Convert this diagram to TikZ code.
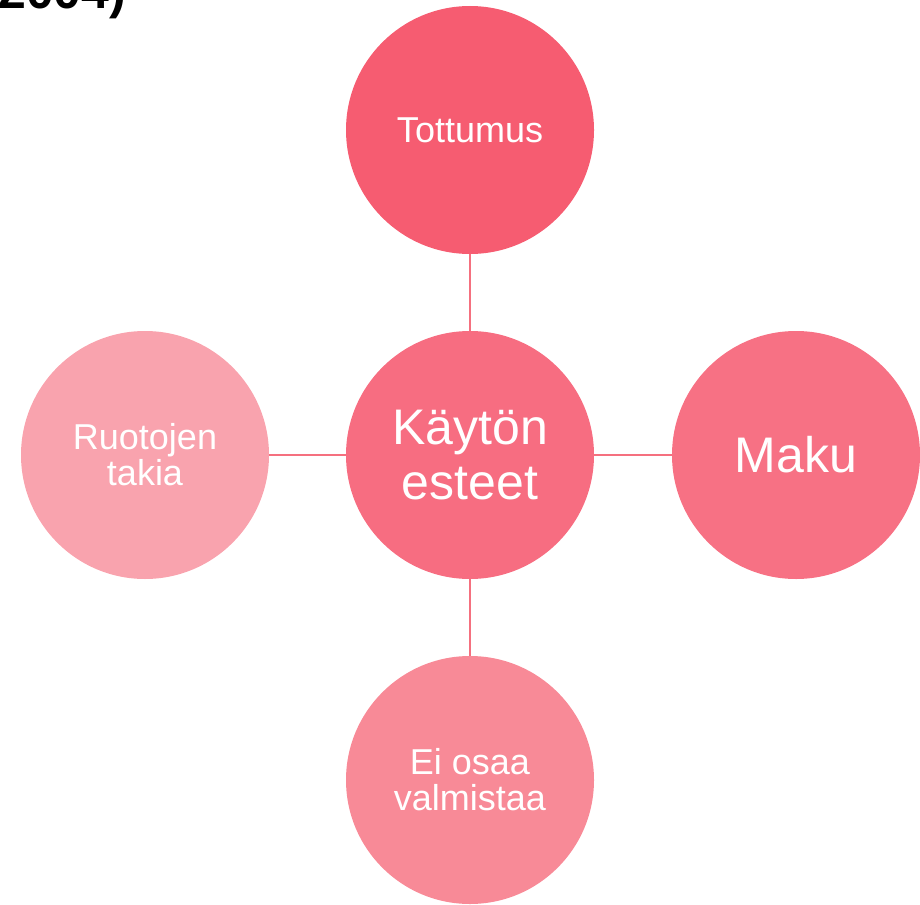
\documentclass[tikz,border=0pt]{standalone}
\usepackage{fontspec}
\setmainfont{Liberation Sans}
\definecolor{ctop}{HTML}{F65C71}
\definecolor{cmid}{HTML}{F76D81}
\definecolor{cright}{HTML}{F77184}
\definecolor{cleft}{HTML}{F9A3AE}
\definecolor{cbot}{HTML}{F88A97}
\definecolor{cline}{HTML}{F5707F}
\tikzset{
  bubble/.style={circle, minimum size=248pt, inner sep=0pt, text=white, align=center,
    font=\fontsize{36}{36}\selectfont},
  bigbubble/.style={bubble, font=\fontsize{50}{55}\selectfont},
  conn/.style={draw=cline, line width=2pt}
}
\begin{document}
\begin{tikzpicture}[x=1pt,y=-1pt]
\useasboundingbox (0,0) rectangle (920,904);
\clip (0,0) rectangle (920,904);
\node[anchor=base west, font=\fontsize{50}{50}\selectfont\bfseries, inner sep=0pt] (frag) at (-2,9) {2004)};
\node[bubble, fill=ctop] (top) at (470,130) {Tottumus};
\node[bigbubble, fill=cmid] (mid) at (470,455) {Käytön\\esteet};
\node[bigbubble, fill=cright] (right) at (796,455) {Maku};
\node[bubble, fill=cleft] (left) at (145,455) {Ruotojen\\takia};
\node[bubble, fill=cbot] (bot) at (470,780) {Ei osaa\\valmistaa};
\draw[conn] (top) -- (mid);
\draw[conn] (mid) -- (right);
\draw[conn] (mid) -- (left);
\draw[conn] (mid) -- (bot);
\end{tikzpicture}
\end{document}
